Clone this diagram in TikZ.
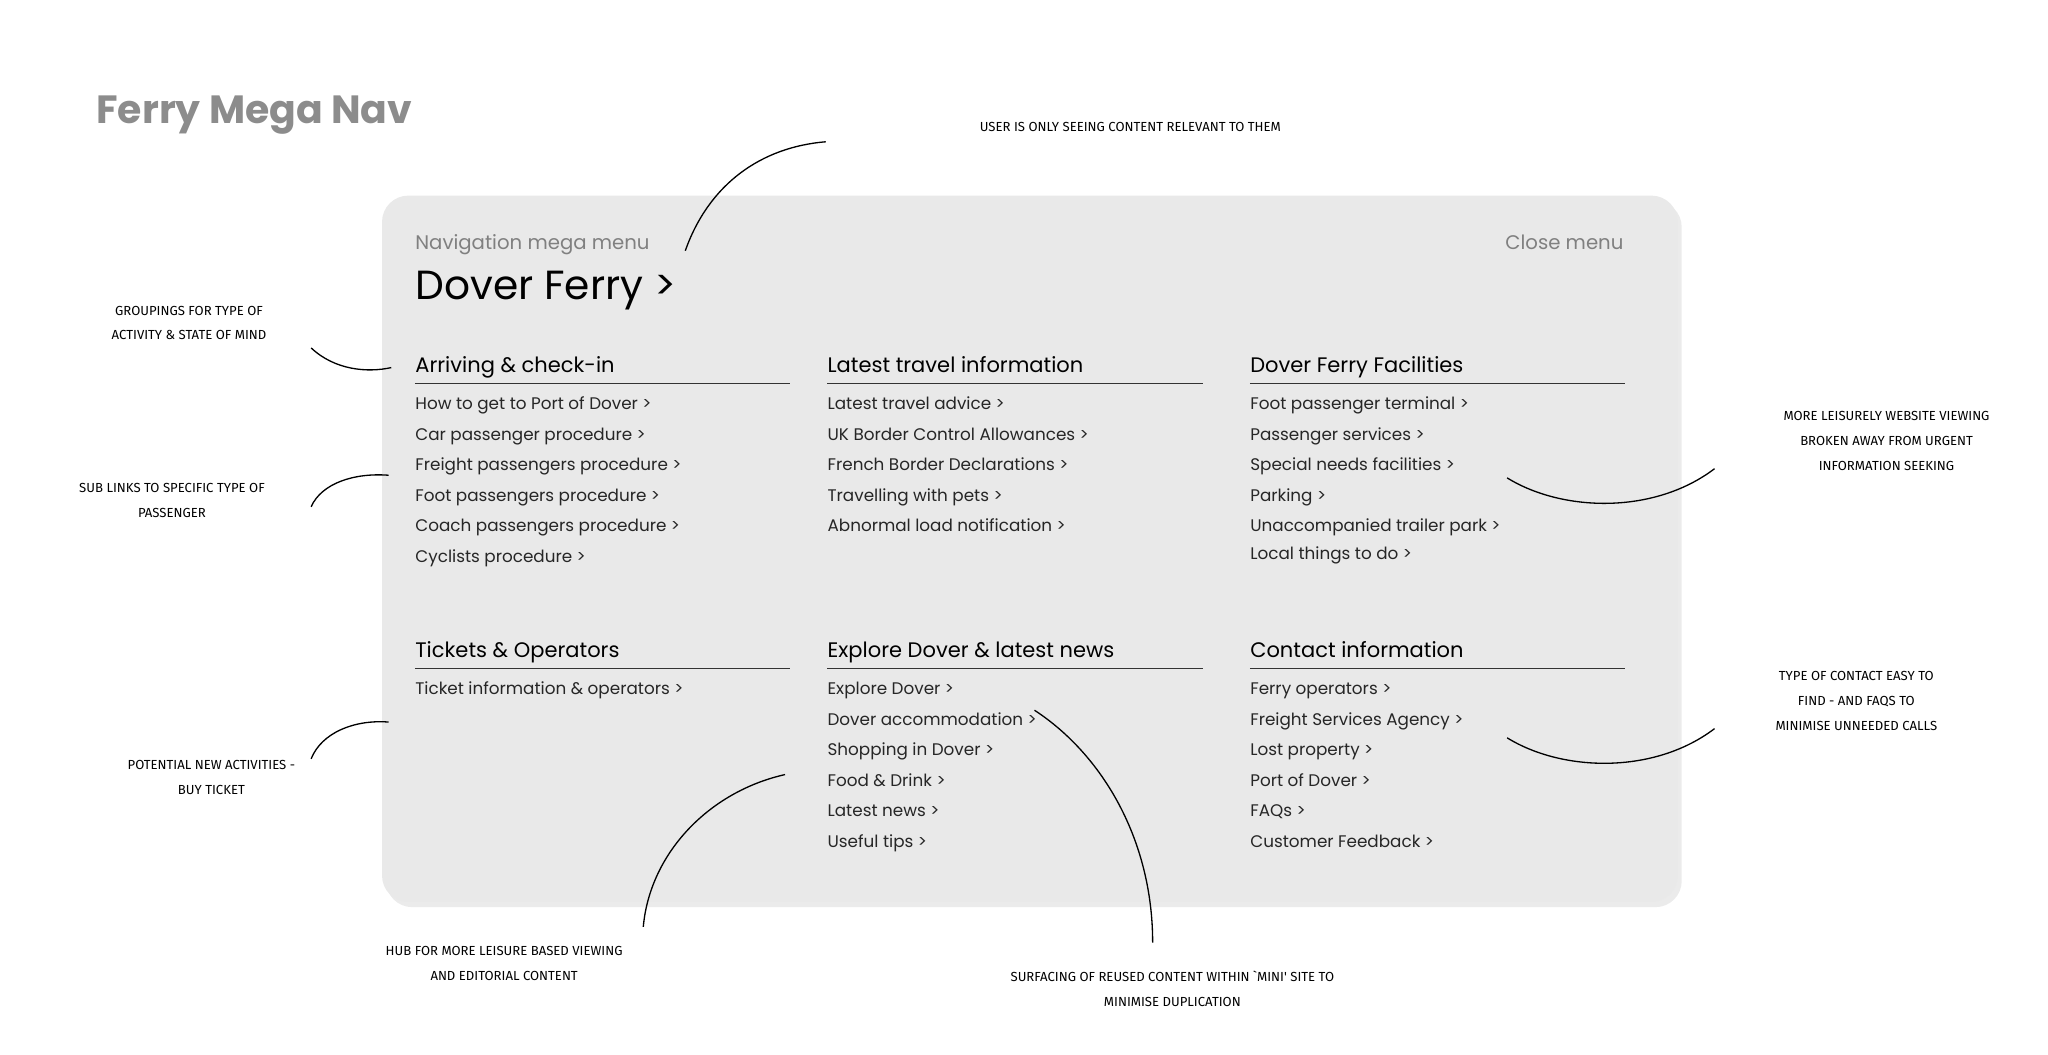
\documentclass[tikz,border=0pt]{standalone}
\usepackage{fontspec}
\setmainfont{Poppins}
\newfontfamily\hand{Fira Sans}
\begin{document}
\begin{tikzpicture}[x=0.5pt,y=-0.5pt,
  lnk/.style={anchor=base west,inner sep=0,font=\fontsize{6.4}{7}\selectfont,text=black!85},
  hd/.style={anchor=base west,inner sep=0,font=\fontsize{8}{9}\selectfont},
  ann/.style={align=center,inner sep=0,font=\hand\fontsize{5}{9.5}\selectfont},
  crv/.style={line width=0.5pt}]
\useasboundingbox (0,0) rectangle (1560,803);
\fill[black!8,rounded corners=10] (294,153) rectangle (1281,691);
\fill[rounded corners=10,fill={rgb,255:red,233;green,233;blue,233}] (291,149) rectangle (1278,687);
\node[anchor=base west,inner sep=0,font=\fontsize{15}{16}\selectfont\bfseries,text=black!45] (title) at (73,94) {Ferry Mega Nav};
\node[anchor=base west,inner sep=0,font=\fontsize{7.5}{8}\selectfont,text=black!50] (nav) at (316,190) {Navigation mega menu};
\node[anchor=base east,inner sep=0,font=\fontsize{7.5}{8}\selectfont,text=black!50] (close) at (1237,190) {Close menu};
\node[anchor=base west,inner sep=0,font=\fontsize{15.5}{16}\selectfont] (dover) at (316,228) {Dover Ferry >};
% headings
\foreach \x/\y/\t/\n in {316/284/Arriving \& check-in/h1,630/284/Latest travel information/h2,952/284/Dover Ferry Facilities/h3,316/501/Tickets \& Operators/h4,630/501/Explore Dover \& latest news/h5,952/501/Contact information/h6}{
  \node[hd] (\n) at (\x,\y) {\t};
  \draw[line width=0.5pt,black!80] (\x,\y+8) -- (\x+286,\y+8);
}
% links
\foreach \t [count=\i] in {How to get to Port of Dover >,Car passenger procedure >,Freight passengers procedure >,Foot passengers procedure >,Coach passengers procedure >,Cyclists procedure >}
  \node[lnk] (a\i) at (316,312+23.3*\i-23.3) {\t};
\foreach \t [count=\i] in {Latest travel advice >,UK Border Control Allowances >,French Border Declarations >,Travelling with pets >,Abnormal load notification >}
  \node[lnk] (b\i) at (630,312+23.3*\i-23.3) {\t};
\foreach \t [count=\i] in {Foot passenger terminal >,Passenger services >,Special needs facilities >,Parking >,Unaccompanied trailer park >}
  \node[lnk] (c\i) at (952,312+23.3*\i-23.3) {\t};
\node[lnk] (c6) at (952,426) {Local things to do >};
\node[lnk] (d1) at (316,529) {Ticket information \& operators >};
\foreach \t [count=\i] in {Explore Dover >,Dover accommodation >,Shopping in Dover >,Food \& Drink >,Latest news >,Useful tips >}
  \node[lnk] (e\i) at (630,529+23.3*\i-23.3) {\t};
\foreach \t [count=\i] in {Ferry operators >,Freight Services Agency >,Lost property >,Port of Dover >,FAQs >,Customer Feedback >}
  \node[lnk] (f\i) at (952,529+23.3*\i-23.3) {\t};
% annotations
\node[ann] (n1) at (861,97) {USER IS ONLY SEEING CONTENT RELEVANT TO THEM};
\node[ann] (n2) at (144,246) {GROUPINGS FOR TYPE OF\\ACTIVITY \& STATE OF MIND};
\node[ann] (n3) at (131,381) {SUB LINKS TO SPECIFIC TYPE OF\\PASSENGER};
\node[ann] (n4) at (161,592) {POTENTIAL NEW ACTIVITIES -\\BUY TICKET};
\node[ann] (n5) at (384,734) {HUB FOR MORE LEISURE BASED VIEWING\\AND EDITORIAL CONTENT};
\node[ann] (n6) at (893,753) {SURFACING OF REUSED CONTENT WITHIN `MINI' SITE TO\\MINIMISE DUPLICATION};
\node[ann] (n7) at (1437,336) {MORE LEISURELY WEBSITE VIEWING\\BROKEN AWAY FROM URGENT\\INFORMATION SEEKING};
\node[ann] (n8) at (1414,534) {TYPE OF CONTACT EASY TO\\FIND - AND FAQS TO\\MINIMISE UNNEEDED CALLS};
\coordinate (p1) at (522,191); \coordinate (q1) at (629,108);
\draw[crv] (p1) .. controls (540,140) and (580,112) .. (q1);
\coordinate (p2) at (237,265); \coordinate (q2) at (298,280);
\draw[crv] (p2) .. controls (255,282) and (280,284) .. (q2);
\coordinate (p3) at (237,386); \coordinate (q3) at (296,362);
\draw[crv] (p3) .. controls (245,368) and (270,360) .. (q3);
\coordinate (p4) at (237,578); \coordinate (q4) at (296,550);
\draw[crv] (p4) .. controls (245,558) and (270,548) .. (q4);
\coordinate (p5) at (490,706); \coordinate (q5) at (598,590);
\draw[crv] (p5) .. controls (495,650) and (540,603) .. (q5);
\coordinate (p6) at (878,718); \coordinate (q6) at (788,541);
\draw[crv] (p6) .. controls (878,640) and (840,575) .. (q6);
\coordinate (p7) at (1148,364); \coordinate (q7) at (1306,357);
\draw[crv] (p7) .. controls (1190,390) and (1260,392) .. (q7);
\coordinate (p8) at (1148,562); \coordinate (q8) at (1306,555);
\draw[crv] (p8) .. controls (1190,588) and (1260,590) .. (q8);
\end{tikzpicture}
\end{document}
